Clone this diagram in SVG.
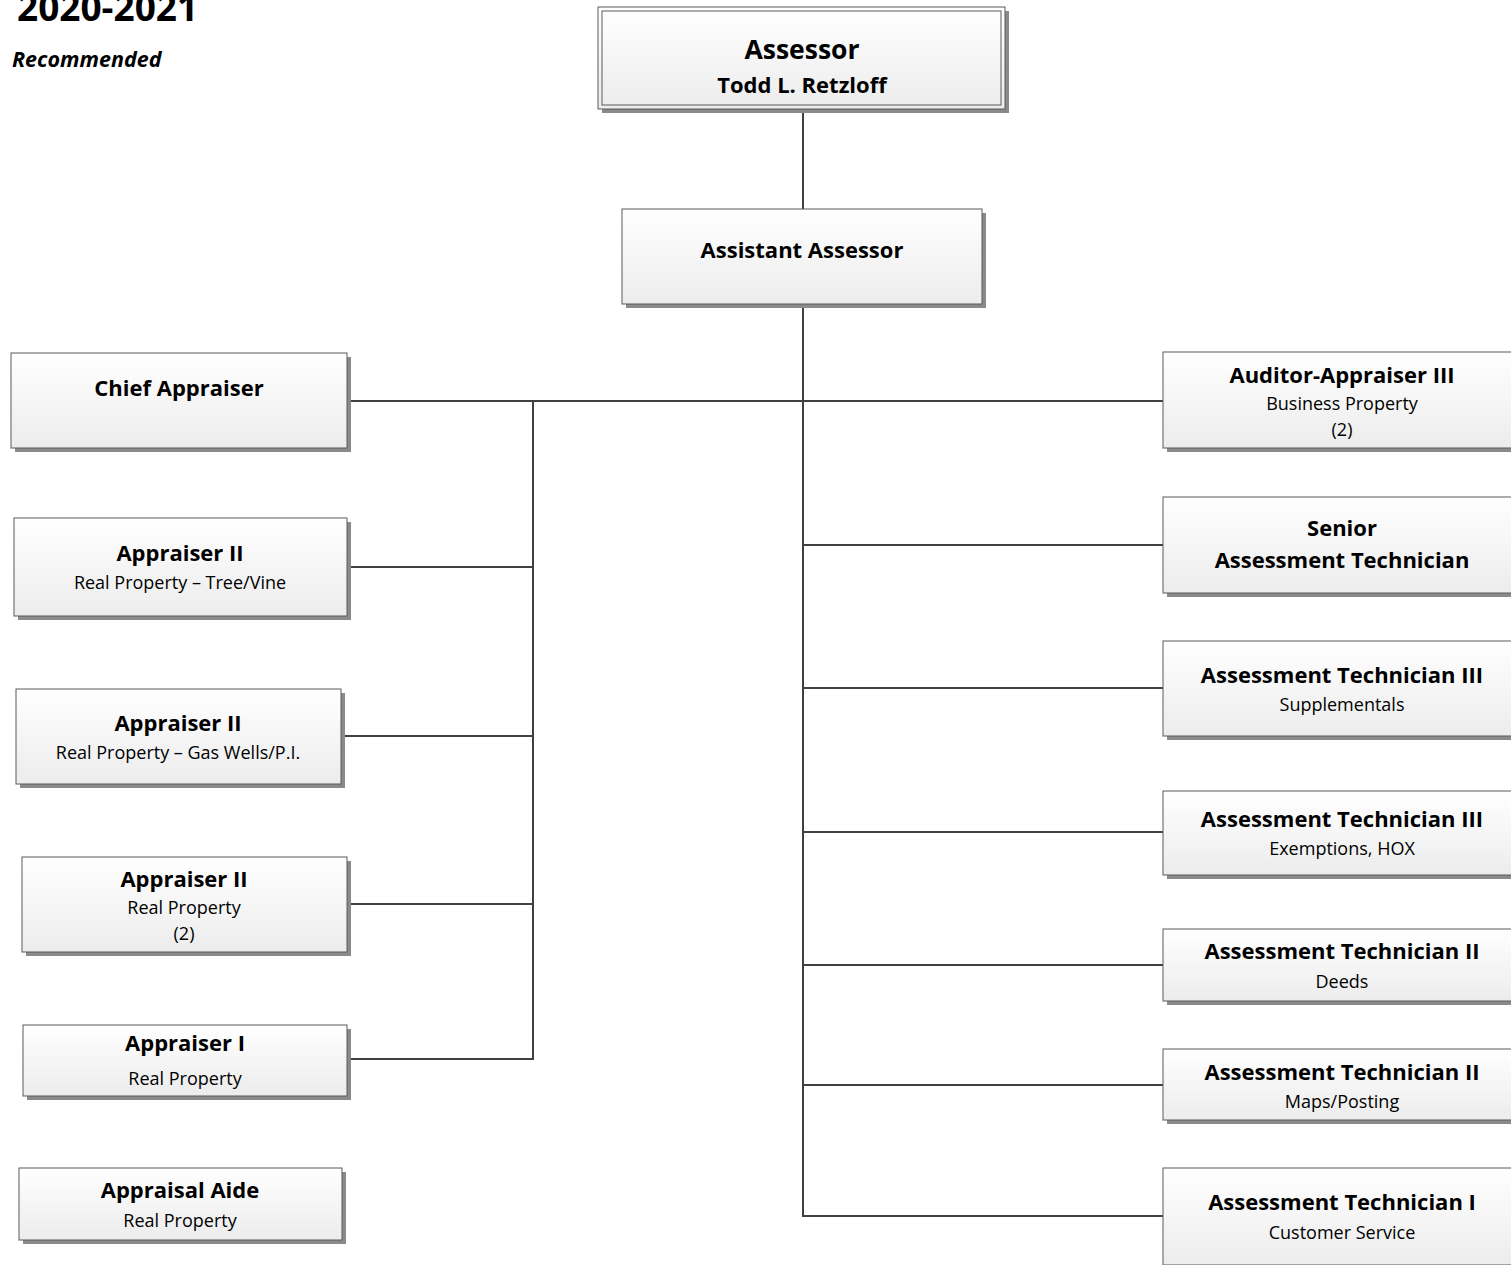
<svg xmlns="http://www.w3.org/2000/svg" width="1511" height="1265" viewBox="0 0 1511 1265">
  <defs>
    <linearGradient id="boxFill" x1="0" y1="0" x2="0" y2="1">
      <stop offset="0" stop-color="#ffffff"/>
      <stop offset="1" stop-color="#ececec"/>
    </linearGradient>
    <style>
      .box { fill: url(#boxFill); stroke: #5a5a5a; stroke-width: 1; }
      .shadow { fill: #8a8a8a; }
      .title { font-family: "Open Sans", "Liberation Sans", sans-serif; font-weight: bold; fill: #000; text-anchor: middle; font-size: 22px; }
      .sub { font-family: "Open Sans", "Liberation Sans", sans-serif; fill: #000; text-anchor: middle; font-size: 18px; }
      .conn { stroke: #404040; stroke-width: 2; fill: none; }
    </style>
  </defs>
  <rect width="1511" height="1265" fill="#ffffff"/>

  <!-- page heading -->
  <text x="17" y="21" font-family="Open Sans, Liberation Sans, sans-serif" font-weight="bold" font-size="37">2020-2021</text>
  <text x="12" y="67" font-family="Open Sans, Liberation Sans, sans-serif" font-weight="bold" font-style="italic" font-size="21.5">Recommended</text>

  <!-- reporting lines -->
  <g id="connectors">
    <path class="conn" d="M803 110 V209"/>
    <path class="conn" d="M803 304 V1216 H1163"/>
    <path class="conn" d="M347 401 H1163"/>
    <path class="conn" d="M533 401 V1059 H347"/>
    <path class="conn" d="M347 567 H533"/>
    <path class="conn" d="M341 736 H533"/>
    <path class="conn" d="M347 904 H533"/>
    <path class="conn" d="M803 545 H1163"/>
    <path class="conn" d="M803 688 H1163"/>
    <path class="conn" d="M803 832 H1163"/>
    <path class="conn" d="M803 965 H1163"/>
    <path class="conn" d="M803 1085 H1163"/>
  </g>

  <g id="assessor">
    <rect class="shadow" x="602" y="11" width="407" height="102"/>
    <rect class="box" x="598" y="7" width="407" height="102"/>
    <rect fill="none" stroke="#5a5a5a" stroke-width="1" x="602" y="11" width="399" height="94"/>
    <text class="title" x="802" y="59" style="font-size:26.5px">Assessor</text>
    <text class="title" x="802" y="93">Todd L. Retzloff</text>
  </g>

  <g id="assistant-assessor">
    <rect class="shadow" x="626" y="213" width="360" height="95"/>
    <rect class="box" x="622" y="209" width="360" height="95"/>
    <text class="title" x="802" y="258">Assistant Assessor</text>
  </g>

  <g id="chief-appraiser">
    <rect class="shadow" x="15" y="357" width="336" height="95"/>
    <rect class="box" x="11" y="353" width="336" height="95"/>
    <text class="title" x="179" y="396">Chief Appraiser</text>
  </g>

  <g id="appraiser-ii-tree-vine">
    <rect class="shadow" x="18" y="522" width="333" height="98"/>
    <rect class="box" x="14" y="518" width="333" height="98"/>
    <text class="title" x="180" y="561">Appraiser II</text>
    <text class="sub" x="180" y="589">Real Property – Tree/Vine</text>
  </g>

  <g id="appraiser-ii-gas-wells">
    <rect class="shadow" x="20" y="693" width="325" height="95"/>
    <rect class="box" x="16" y="689" width="325" height="95"/>
    <text class="title" x="178" y="731">Appraiser II</text>
    <text class="sub" x="178" y="759">Real Property – Gas Wells/P.I.</text>
  </g>

  <g id="appraiser-ii-real-property">
    <rect class="shadow" x="26" y="861" width="325" height="95"/>
    <rect class="box" x="22" y="857" width="325" height="95"/>
    <text class="title" x="184" y="887">Appraiser II</text>
    <text class="sub" x="184" y="914">Real Property</text>
    <text class="sub" x="184" y="940">(2)</text>
  </g>

  <g id="appraiser-i">
    <rect class="shadow" x="27" y="1029" width="324" height="71"/>
    <rect class="box" x="23" y="1025" width="324" height="71"/>
    <text class="title" x="185" y="1051">Appraiser I</text>
    <text class="sub" x="185" y="1085">Real Property</text>
  </g>

  <g id="appraisal-aide">
    <rect class="shadow" x="23" y="1172" width="323" height="72"/>
    <rect class="box" x="19" y="1168" width="323" height="72"/>
    <text class="title" x="180" y="1198">Appraisal Aide</text>
    <text class="sub" x="180" y="1227">Real Property</text>
  </g>

  <g id="auditor-appraiser-iii">
    <rect class="shadow" x="1167" y="356" width="350" height="96"/>
    <rect class="box" x="1163" y="352" width="350" height="96"/>
    <text class="title" x="1342" y="383">Auditor-Appraiser III</text>
    <text class="sub" x="1342" y="410">Business Property</text>
    <text class="sub" x="1342" y="436">(2)</text>
  </g>

  <g id="senior-assessment-technician">
    <rect class="shadow" x="1167" y="501" width="350" height="96"/>
    <rect class="box" x="1163" y="497" width="350" height="96"/>
    <text class="title" x="1342" y="536">Senior</text>
    <text class="title" x="1342" y="568">Assessment Technician</text>
  </g>

  <g id="assessment-technician-iii-supplementals">
    <rect class="shadow" x="1167" y="645" width="350" height="95"/>
    <rect class="box" x="1163" y="641" width="350" height="95"/>
    <text class="title" x="1342" y="683">Assessment Technician III</text>
    <text class="sub" x="1342" y="711">Supplementals</text>
  </g>

  <g id="assessment-technician-iii-exemptions">
    <rect class="shadow" x="1167" y="795" width="350" height="84"/>
    <rect class="box" x="1163" y="791" width="350" height="84"/>
    <text class="title" x="1342" y="827">Assessment Technician III</text>
    <text class="sub" x="1342" y="855">Exemptions, HOX</text>
  </g>

  <g id="assessment-technician-ii-deeds">
    <rect class="shadow" x="1167" y="933" width="350" height="72"/>
    <rect class="box" x="1163" y="929" width="350" height="72"/>
    <text class="title" x="1342" y="959">Assessment Technician II</text>
    <text class="sub" x="1342" y="988">Deeds</text>
  </g>

  <g id="assessment-technician-ii-maps">
    <rect class="shadow" x="1167" y="1053" width="350" height="71"/>
    <rect class="box" x="1163" y="1049" width="350" height="71"/>
    <text class="title" x="1342" y="1080">Assessment Technician II</text>
    <text class="sub" x="1342" y="1108">Maps/Posting</text>
  </g>

  <g id="assessment-technician-i">
    <rect class="shadow" x="1167" y="1172" width="350" height="97"/>
    <rect class="box" x="1163" y="1168" width="350" height="97"/>
    <text class="title" x="1342" y="1210">Assessment Technician I</text>
    <text class="sub" x="1342" y="1239">Customer Service</text>
  </g>
</svg>
